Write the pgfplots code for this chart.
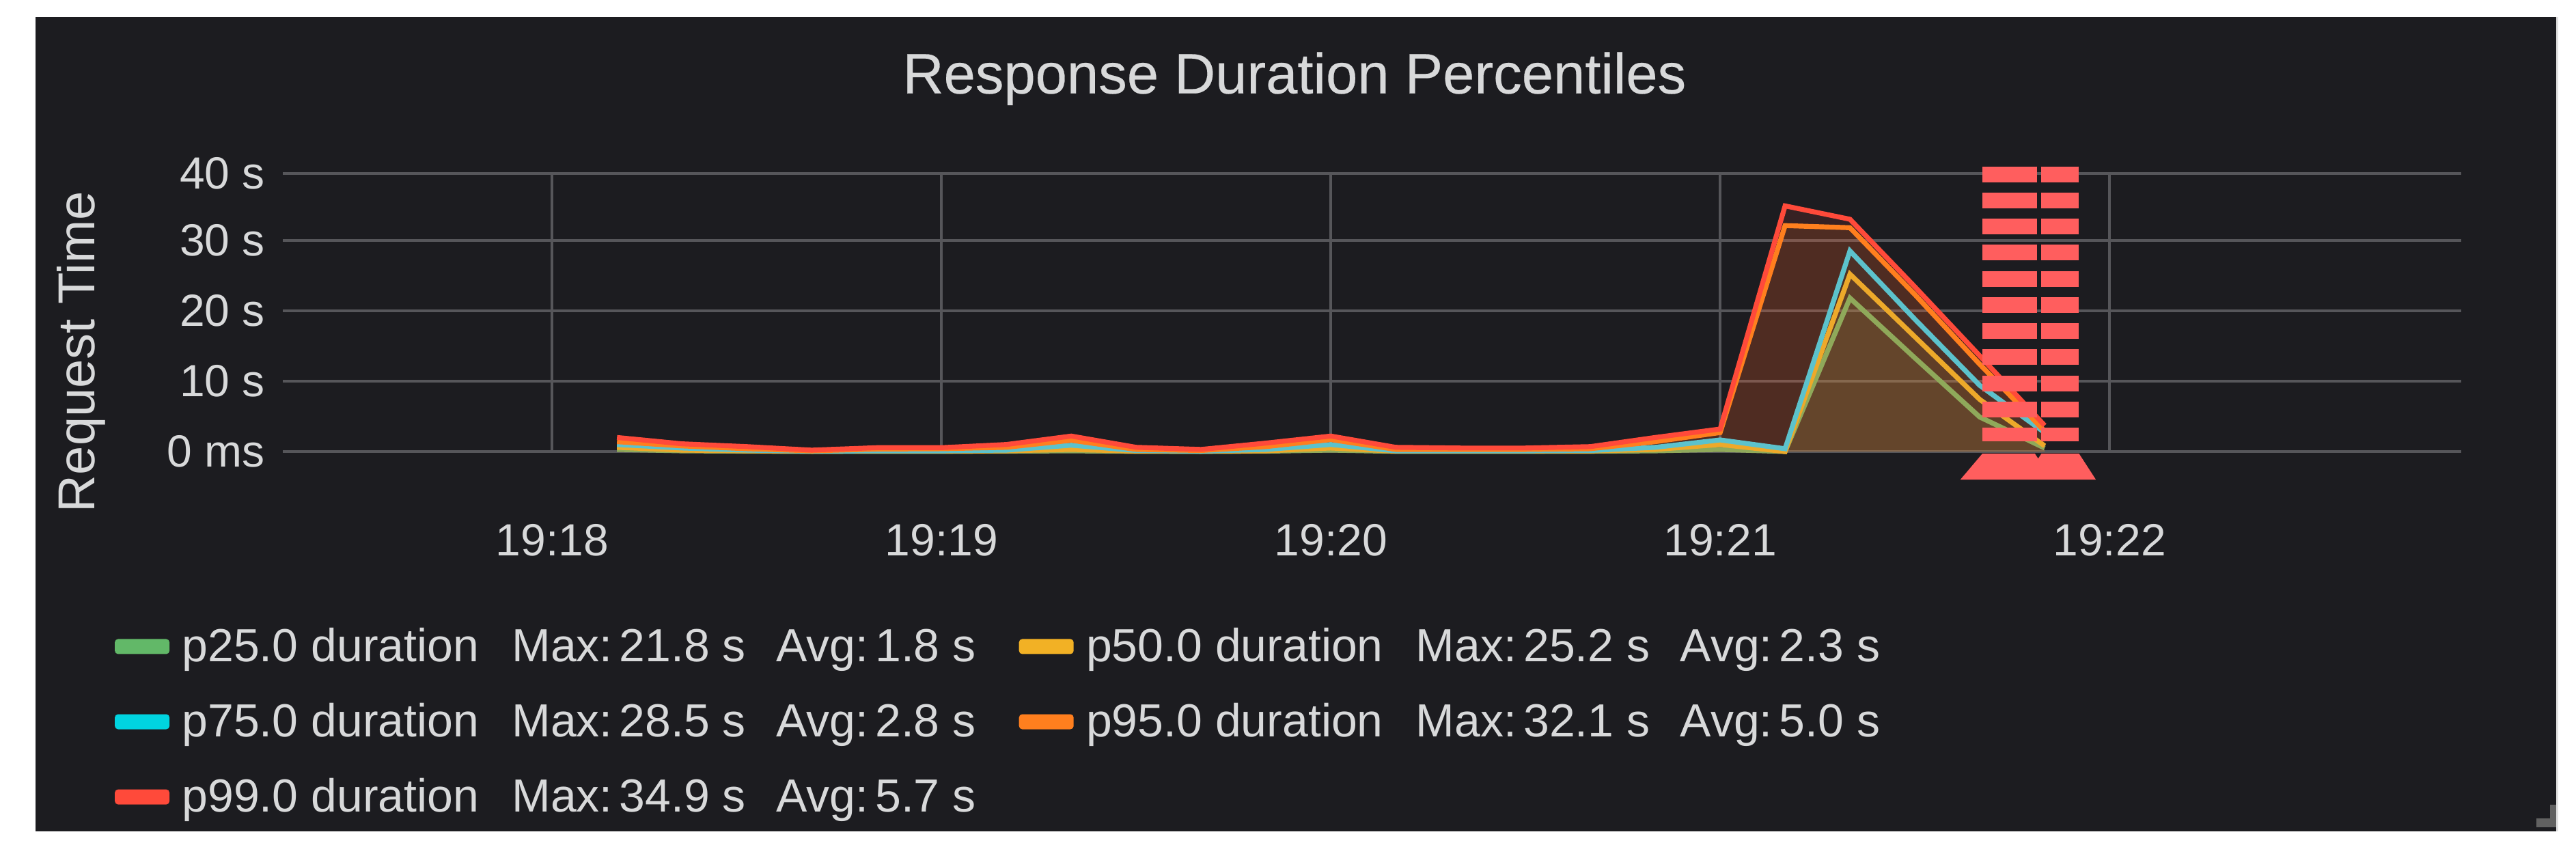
\documentclass[border=0pt]{standalone}
\usepackage{fontspec}
\setmainfont{Liberation Sans}
\newfontfamily\titlefont[FakeBold=0.3]{Liberation Sans}
\usepackage{pgfplots}
\usepackage{pgfplotstable}
\pgfplotsset{compat=1.18}

\definecolor{panel}{HTML}{1C1C20}
\definecolor{txt}{HTML}{D8D9DA}
\definecolor{gridc}{HTML}{56565A}
\definecolor{c25}{HTML}{62B868}
\definecolor{c50}{HTML}{F2B125}
\definecolor{c75}{HTML}{00D4E0}
\definecolor{c95}{HTML}{FF7F1E}
\definecolor{c99}{HTML}{FF4A3A}
\definecolor{l25}{HTML}{8FA95A}
\definecolor{l50}{HTML}{EDA92A}
\definecolor{l75}{HTML}{5CC2CC}
\definecolor{note}{HTML}{FF5E5E}

% seconds after 19:18
\pgfplotstableread{
t   p25  p50  p75  p95  p99
10  0.3  0.6  1.0  1.4  2.0
20  0.1  0.2  0.5  0.8  1.1
30  0.05 0.1  0.2  0.4  0.7
40  0.01 0.02 0.05 0.1  0.2
50  0.02 0.05 0.1  0.35 0.55
60  0.02 0.05 0.1  0.4  0.55
70  0.05 0.1  0.2  0.6  1.0
80  0.1  0.3  0.9  1.6  2.2
90  0.02 0.05 0.15 0.3  0.6
100 0.01 0.02 0.05 0.15 0.3
110 0.05 0.1  0.3  0.7  1.2
120 0.2  0.5  1.0  1.7  2.2
130 0.02 0.05 0.1  0.3  0.6
140 0.02 0.05 0.1  0.3  0.5
150 0.02 0.05 0.1  0.3  0.5
160 0.03 0.08 0.15 0.4  0.7
170 0.1  0.3  0.6  1.4  2.0
180 0.3  1.0  1.65 2.7  3.2
190 0.0  0.0  0.4  32.1 34.9
200 21.8 25.2 28.5 31.8 33.0
210 13.3 16.3 18.8 22.3 23.4
220 4.9  7.4  9.4  12.4 13.6
230 0.5  0.8  2.7  2.9  3.7
}\durations

\newcommand{\rowtext}[3]{\makebox[120.75pt][l]{p#1 duration}\makebox[96.75pt][l]{Max:\hspace{2.5pt}#2 s}\makebox[73.5pt][l]{Avg:\hspace{2.5pt}#3 s}}

\begin{document}
\begin{tikzpicture}
\path[use as bounding box, fill=white] (0,0) rectangle (942.75pt,313.75pt);
\fill[panel] (13pt,9.5pt) rectangle (935.5pt,307.5pt);
\fill[black!12] (935.5pt,9.5pt) rectangle (936.25pt,307.5pt);
% resize handle
\fill[black!62] (928.25pt,11pt) rectangle (935.5pt,14.25pt);
\fill[black!62] (933.25pt,14.25pt) rectangle (935.5pt,19.25pt);
\begin{axis}[
    at={(103.5pt,148.5pt)},
    anchor=south west,
    scale only axis,
    width=797.25pt,
    height=101.75pt,
    xmin=-41.5, xmax=294.2,
    ymin=0, ymax=39.5,
    clip=false,
    axis line style={draw=none},
    major tick length=0pt,
    xtick={0,60,120,180,240},
    xticklabels={19:18,19:19,19:20,19:21,19:22},
    ytick={0,10,20,30,39.5},
    yticklabels={0 ms,10 s,20 s,30 s,40 s},
    xmajorgrids, ymajorgrids,
    grid style={gridc, line width=0.9pt},
    tick label style={font=\fontsize{16.5}{20}\selectfont, text=txt},
    xticklabel style={yshift=-23pt},
    yticklabel style={xshift=-3pt},
    title={Response Duration Percentiles},
    title style={at={(axis description cs:0.4644,1.282)}, anchor=center, font=\titlefont\fontsize{20.8}{24}\selectfont, text=txt},
    ylabel={Request Time},
    ylabel style={at={(axis description cs:-0.0925,0.359)}, anchor=center, font=\fontsize{19}{22}\selectfont, text=txt},
    no markers,
    legend columns=2,
    legend cell align=left,
    legend style={
        at={(axis description cs:-0.0771,-0.6236)}, anchor=north west,
        draw=none, fill=none, inner sep=0pt, outer sep=0pt,
        text=txt, font=\fontsize{17}{20}\selectfont,
        row sep=11.7pt,
        /tikz/column 2/.style={column sep=14.3pt},
        nodes={inner sep=1pt},
    },
    legend image code/.code={
        \path[draw=none, fill=none] (0pt,0pt) -- (23.6pt,0pt);
        \fill[#1, rounded corners=1.2pt, draw=none] (0pt,-2.75pt) rectangle (20pt,2.75pt);
    },
]
\addplot[draw=none, fill=c25, fill opacity=0.08, forget plot] table[x=t,y=p25]{\durations} \closedcycle;
\addplot[draw=none, fill=c50, fill opacity=0.12, forget plot] table[x=t,y=p50]{\durations} \closedcycle;
\addplot[draw=none, fill=c75, fill opacity=0.04, forget plot] table[x=t,y=p75]{\durations} \closedcycle;
\addplot[draw=none, fill=c95, fill opacity=0.12, forget plot] table[x=t,y=p95]{\durations} \closedcycle;
\addplot[draw=none, fill=c99, fill opacity=0.12, forget plot] table[x=t,y=p99]{\durations} \closedcycle;

\addplot[l25, line width=1.8pt, forget plot] table[x=t,y=p25]{\durations};
\addplot[l50, line width=1.8pt, forget plot] table[x=t,y=p50]{\durations};
\addplot[l75, line width=1.8pt, forget plot] table[x=t,y=p75]{\durations};
\addplot[c95, line width=1.8pt, forget plot] table[x=t,y=p95]{\durations};
\addplot[c99, line width=1.8pt, forget plot] table[x=t,y=p99]{\durations};

\addlegendimage{c25}
\addlegendentry{\rowtext{25.0}{21.8}{1.8}}
\addlegendimage{c50}
\addlegendentry{\rowtext{50.0}{25.2}{2.3}}
\addlegendimage{c75}
\addlegendentry{\rowtext{75.0}{28.5}{2.8}}
\addlegendimage{c95}
\addlegendentry{\rowtext{95.0}{32.1}{5.0}}
\addlegendimage{c99}
\addlegendentry{\rowtext{99.0}{34.9}{5.7}}

% annotation marker
\addplot[note, line width=20pt, dash pattern=on 5.75pt off 3.81pt, forget plot] coordinates {(224.6,40.5) (224.6,1.45)};
\addplot[note, line width=13.75pt, dash pattern=on 5.75pt off 3.81pt, forget plot] coordinates {(232.4,40.5) (232.4,1.45)};
\addplot[note, fill=note, draw=none, forget plot] coordinates {(220.4,-0.3) (228.5,-0.3) (229,-1.0) (229.5,-0.3) (235.3,-0.3) (237.9,-4) (217,-4)} --cycle;
\end{axis}
\end{tikzpicture}
\end{document}
